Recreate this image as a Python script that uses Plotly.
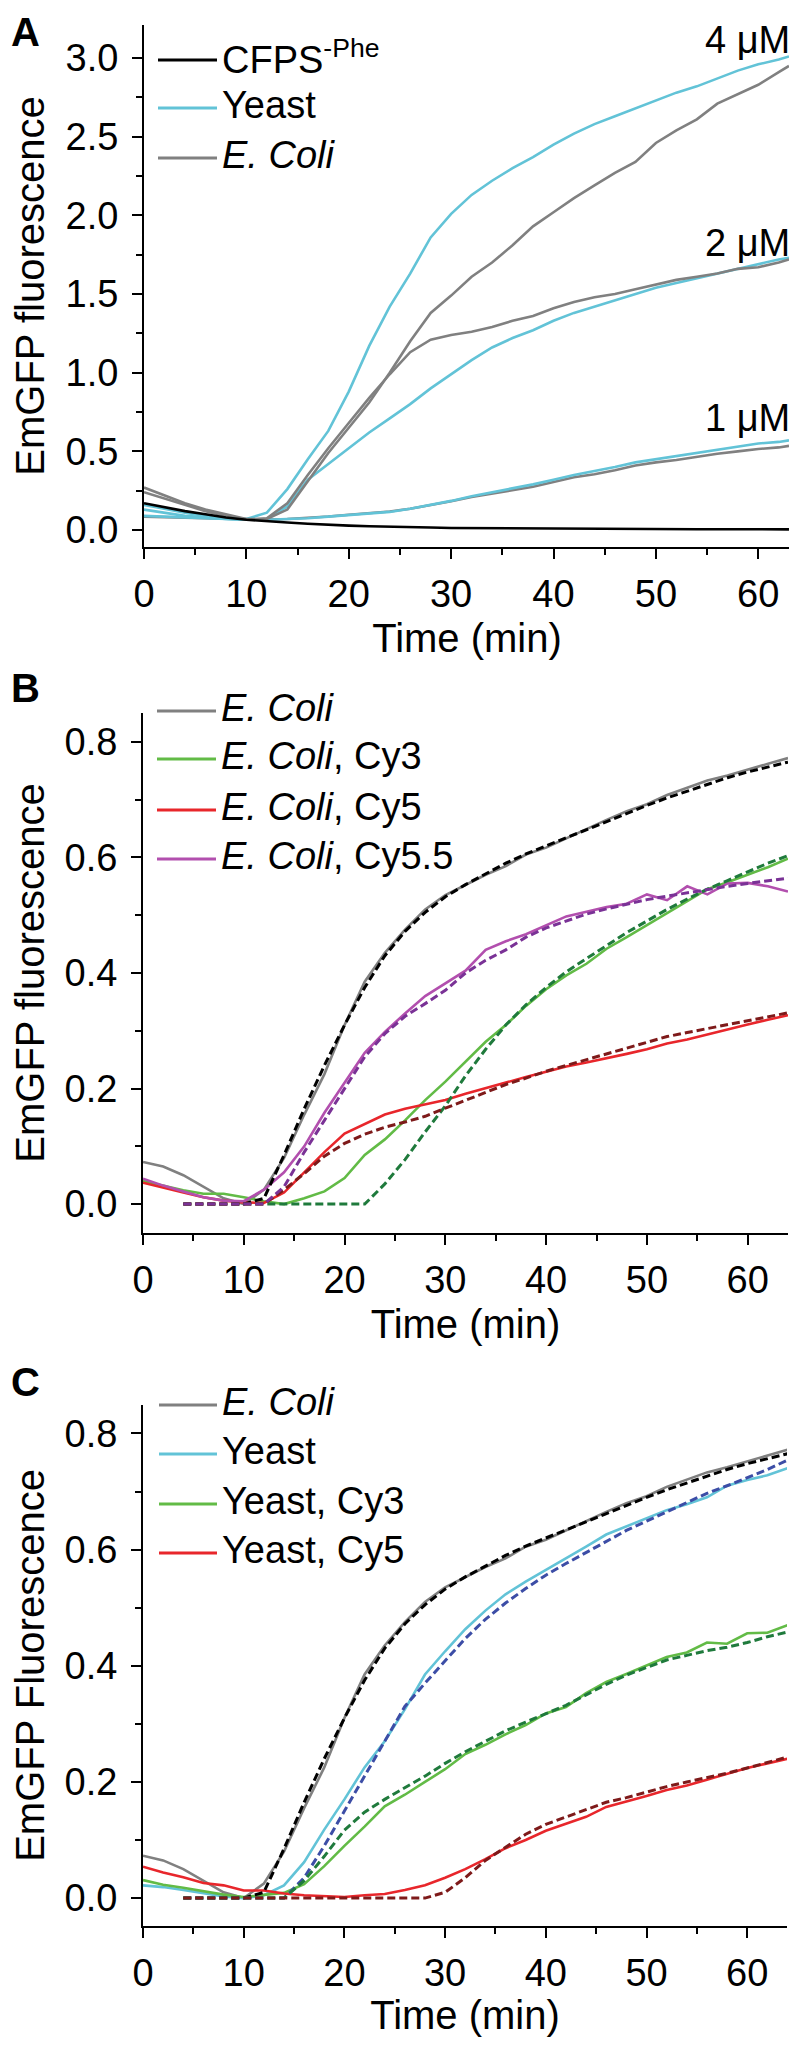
import plotly.graph_objects as go

# page body has an 8px margin: figure is placed at (8, 8) inside the 797x2045 window
OFF = 8
W, H = 797, 2045
FW, FH = W - OFF, H - 2 * OFF
FONT = "Arial, 'Liberation Sans', sans-serif"

# ---------------- Panel A data ----------------
t_A = [0, 2, 4, 6, 8, 10, 12, 14, 16, 18, 20, 22, 24, 26, 28, 30, 32, 34, 36, 38,
       40, 42, 44, 46, 48, 50, 52, 54, 56, 58, 60, 62, 63]
cfps_phe = [0.17, 0.145, 0.12, 0.10, 0.08, 0.065, 0.055, 0.048, 0.04, 0.033, 0.028, 0.024,
            0.02, 0.018, 0.016, 0.013, 0.012, 0.011, 0.010, 0.009, 0.008, 0.008, 0.007,
            0.006, 0.006, 0.005, 0.006, 0.005, 0.005, 0.004, 0.004, 0.004, 0.004]
yeast_4uM = [0.16, 0.135, 0.11, 0.09, 0.075, 0.07, 0.11, 0.26, 0.45, 0.63, 0.88, 1.17, 1.42,
             1.63, 1.86, 2.01, 2.13, 2.22, 2.30, 2.37, 2.45, 2.52, 2.58, 2.63, 2.68, 2.73,
             2.78, 2.82, 2.87, 2.92, 2.96, 2.99, 3.01]
ecoli_4uM = [0.27, 0.22, 0.17, 0.13, 0.10, 0.07, 0.07, 0.13, 0.31, 0.49, 0.65, 0.81, 1.0,
             1.2, 1.38, 1.49, 1.61, 1.70, 1.81, 1.93, 2.02, 2.11, 2.19, 2.27, 2.34, 2.46,
             2.54, 2.61, 2.71, 2.77, 2.83, 2.91, 2.95]
yeast_2uM = [0.13, 0.11, 0.09, 0.08, 0.07, 0.065, 0.07, 0.15, 0.32, 0.42, 0.52, 0.62, 0.71,
             0.80, 0.90, 0.99, 1.08, 1.16, 1.22, 1.27, 1.33, 1.38, 1.42, 1.46, 1.50, 1.54,
             1.57, 1.60, 1.63, 1.66, 1.69, 1.72, 1.73]
ecoli_2uM = [0.24, 0.20, 0.16, 0.12, 0.09, 0.065, 0.075, 0.17, 0.35, 0.52, 0.68, 0.84, 0.99,
             1.13, 1.21, 1.24, 1.26, 1.29, 1.33, 1.36, 1.41, 1.45, 1.48, 1.50, 1.53, 1.56,
             1.59, 1.61, 1.63, 1.66, 1.67, 1.70, 1.72]
yeast_1uM = [0.09, 0.085, 0.08, 0.075, 0.07, 0.065, 0.065, 0.07, 0.075, 0.085, 0.095, 0.105,
             0.115, 0.135, 0.16, 0.185, 0.215, 0.24, 0.265, 0.29, 0.32, 0.35, 0.375, 0.40,
             0.43, 0.45, 0.47, 0.49, 0.51, 0.53, 0.55, 0.56, 0.57]
ecoli_1uM = [0.085, 0.082, 0.078, 0.074, 0.07, 0.066, 0.066, 0.07, 0.076, 0.086, 0.097, 0.107,
             0.118, 0.135, 0.158, 0.183, 0.21, 0.232, 0.255, 0.275, 0.305, 0.335, 0.355,
             0.38, 0.41, 0.43, 0.445, 0.465, 0.485, 0.50, 0.515, 0.525, 0.535]
conc_labels = ["4 \u03bcM", "2 \u03bcM", "1 \u03bcM"]

# ---------------- Panels B & C data ----------------
t_BC = [0, 2, 4, 6, 8, 10, 12, 14, 16, 18, 20, 22, 24, 26, 28, 30, 32, 34, 36, 38, 40,
        42, 44, 46, 48, 50, 52, 54, 56, 58, 60, 62, 64]
t_fit = [4, 6, 8, 10, 12, 14, 16, 18, 20, 22, 24, 26, 28, 30, 32, 34, 36, 38, 40, 42, 44,
         46, 48, 50, 52, 54, 56, 58, 60, 62, 64]

ecoli = [0.073, 0.065, 0.05, 0.03, 0.01, 0.0, 0.025, 0.08, 0.155, 0.225, 0.31, 0.385, 0.435,
         0.475, 0.51, 0.535, 0.553, 0.570, 0.585, 0.605, 0.617, 0.633, 0.65, 0.665, 0.68,
         0.692, 0.708, 0.72, 0.733, 0.742, 0.752, 0.762, 0.772]
ecoli_fit = [0, 0, 0, 0, 0.01, 0.085, 0.165, 0.24, 0.31, 0.375, 0.43, 0.472, 0.505, 0.532,
             0.553, 0.572, 0.59, 0.606, 0.62, 0.635, 0.649, 0.663, 0.677, 0.69, 0.703, 0.715,
             0.727, 0.738, 0.748, 0.757, 0.765]

ecoli_cy3 = [0.04, 0.032, 0.024, 0.018, 0.018, 0.012, 0.005, 0.0, 0.01, 0.022, 0.045, 0.085,
             0.112, 0.145, 0.18, 0.212, 0.247, 0.281, 0.31, 0.343, 0.372, 0.396, 0.416, 0.442,
             0.462, 0.483, 0.503, 0.525, 0.545, 0.557, 0.57, 0.583, 0.598]
ecoli_cy3_fit = [0, 0, 0, 0, 0, 0, 0, 0, 0, 0, 0.035, 0.077, 0.125, 0.17, 0.222, 0.268, 0.31,
                 0.345, 0.375, 0.402, 0.425, 0.448, 0.47, 0.49, 0.51, 0.528, 0.545, 0.56,
                 0.575, 0.59, 0.603]
ecoli_cy5 = [0.037, 0.028, 0.02, 0.012, 0.006, 0.003, 0.002, 0.02, 0.055, 0.09, 0.122, 0.139,
             0.155, 0.165, 0.172, 0.18, 0.191, 0.201, 0.211, 0.22, 0.229, 0.238, 0.245,
             0.252, 0.26, 0.268, 0.278, 0.285, 0.294, 0.302, 0.311, 0.319, 0.327]
ecoli_cy5_fit = [0, 0, 0, 0, 0, 0.025, 0.053, 0.083, 0.105, 0.121, 0.133, 0.142, 0.152, 0.166,
                 0.18, 0.194, 0.207, 0.218, 0.23, 0.24, 0.25, 0.261, 0.27, 0.281, 0.29,
                 0.297, 0.304, 0.311, 0.318, 0.325, 0.331]
ecoli_cy55 = [0.044, 0.032, 0.022, 0.012, 0.006, 0.005, 0.025, 0.055, 0.1, 0.158, 0.21, 0.262,
              0.298, 0.33, 0.36, 0.382, 0.404, 0.44, 0.455, 0.467, 0.482, 0.498, 0.506,
              0.514, 0.52, 0.536, 0.526, 0.55, 0.536, 0.555, 0.556, 0.55, 0.541]
ecoli_cy55_fit = [0, 0, 0, 0, 0, 0.03, 0.09, 0.145, 0.2, 0.255, 0.295, 0.325, 0.347, 0.37,
                  0.4, 0.422, 0.44, 0.462, 0.478, 0.49, 0.502, 0.511, 0.519, 0.527, 0.533,
                  0.539, 0.545, 0.55, 0.555, 0.56, 0.564]

yeast = [0.022, 0.019, 0.014, 0.008, 0.003, 0.0, 0.005, 0.022, 0.062, 0.118, 0.17, 0.225,
         0.27, 0.325, 0.385, 0.425, 0.463, 0.495, 0.523, 0.545, 0.565, 0.584, 0.605, 0.626,
         0.64, 0.653, 0.668, 0.678, 0.69, 0.71, 0.72, 0.728, 0.74]
yeast_fit = [0, 0, 0, 0, 0, 0, 0.035, 0.09, 0.15, 0.21, 0.27, 0.33, 0.37, 0.408, 0.447, 0.48,
             0.508, 0.533, 0.556, 0.576, 0.595, 0.614, 0.633, 0.649, 0.665, 0.682, 0.697,
             0.71, 0.724, 0.738, 0.754]
yeast_cy3 = [0.031, 0.023, 0.018, 0.012, 0.006, 0.002, 0.006, 0.009, 0.024, 0.055, 0.09, 0.123,
             0.158, 0.178, 0.2, 0.222, 0.248, 0.264, 0.282, 0.298, 0.318, 0.329, 0.353, 0.372,
             0.386, 0.4, 0.415, 0.423, 0.44, 0.438, 0.456, 0.457, 0.47]
yeast_cy3_fit = [0, 0, 0, 0, 0, 0, 0.03, 0.072, 0.117, 0.148, 0.17, 0.19, 0.21, 0.232, 0.252,
                 0.27, 0.288, 0.303, 0.318, 0.332, 0.35, 0.368, 0.384, 0.397, 0.41, 0.418,
                 0.426, 0.432, 0.44, 0.45, 0.458]
yeast_cy5 = [0.054, 0.044, 0.036, 0.026, 0.022, 0.013, 0.013, 0.008, 0.005, 0.003, 0.002,
             0.005, 0.007, 0.014, 0.022, 0.035, 0.05, 0.067, 0.086, 0.1, 0.116, 0.128, 0.14,
             0.157, 0.166, 0.176, 0.186, 0.194, 0.204, 0.214, 0.224, 0.232, 0.24]
yeast_cy5_fit = [0, 0, 0, 0, 0, 0, 0, 0, 0, 0, 0, 0, 0, 0.01, 0.035, 0.065, 0.088, 0.11,
                 0.127, 0.14, 0.153, 0.165, 0.173, 0.183, 0.192, 0.2, 0.207, 0.215, 0.224,
                 0.233, 0.243]

legend_A = ["CFPS<sup>-Phe</sup>", "Yeast", "<i>E. Coli</i>"]
legend_B = ["<i>E. Coli</i>", "<i>E. Coli</i>, Cy3", "<i>E. Coli</i>, Cy5", "<i>E. Coli</i>, Cy5.5"]
legend_C = ["<i>E. Coli</i>", "Yeast", "Yeast, Cy3", "Yeast, Cy5"]
panel_letters = ["A", "B", "C"]

# ---------------- styles ----------------
BLACK = "#000000"
CYAN = "#62C3D7"
GRAY = "#808080"
GREEN = "#62BB46"
RED = "#E8262B"
MAGENTA = "#B24FAE"
PURPLE_D = "#7A3296"
GREEN_D = "#1F7A3C"
RED_D = "#7E1A1A"
BLUE_D = "#3C4DA6"
LW = 2.6
DASH = "8px,4px"


def px(x):
    return (x - OFF) / FW


def py(y):
    return 1 - (y - OFF) / FH


fig = go.Figure()


def solid(x, y, color, ax):
    fig.add_trace(go.Scatter(x=x, y=y, mode="lines", line=dict(color=color, width=LW),
                             xaxis="x" + ax, yaxis="y" + ax, showlegend=False,
                             hoverinfo="skip"))


def dashed(x, y, color, ax):
    fig.add_trace(go.Scatter(x=x, y=y, mode="lines",
                             line=dict(color=color, width=3.0, dash=DASH),
                             xaxis="x" + ax, yaxis="y" + ax, showlegend=False,
                             hoverinfo="skip"))


# Panel A
solid(t_A, ecoli_1uM, GRAY, "")
solid(t_A, yeast_1uM, CYAN, "")
solid(t_A, yeast_2uM, CYAN, "")
solid(t_A, ecoli_2uM, GRAY, "")
solid(t_A, yeast_4uM, CYAN, "")
solid(t_A, ecoli_4uM, GRAY, "")
solid(t_A, cfps_phe, BLACK, "")

# Panel B
solid(t_BC, ecoli, GRAY, "2")
solid(t_BC, ecoli_cy3, GREEN, "2")
solid(t_BC, ecoli_cy5, RED, "2")
solid(t_BC, ecoli_cy55, MAGENTA, "2")
dashed(t_fit, ecoli_fit, BLACK, "2")
dashed(t_fit, ecoli_cy3_fit, GREEN_D, "2")
dashed(t_fit, ecoli_cy5_fit, RED_D, "2")
dashed(t_fit, ecoli_cy55_fit, PURPLE_D, "2")

# Panel C
solid(t_BC, ecoli, GRAY, "3")
solid(t_BC, yeast, CYAN, "3")
solid(t_BC, yeast_cy3, GREEN, "3")
solid(t_BC, yeast_cy5, RED, "3")
dashed(t_fit, ecoli_fit, BLACK, "3")
dashed(t_fit, yeast_fit, BLUE_D, "3")
dashed(t_fit, yeast_cy3_fit, GREEN_D, "3")
dashed(t_fit, yeast_cy5_fit, RED_D, "3")

TICKF = dict(family=FONT, size=38, color="black")
TITLEF = dict(family=FONT, size=40, color="black")


def xaxis(dom, rng, anchor):
    return dict(domain=[px(dom[0]), px(dom[1])], range=rng, anchor=anchor,
                showline=True, linecolor="black", linewidth=2, mirror=False,
                ticks="outside", ticklen=10, tickwidth=2, tickcolor="black",
                dtick=10, tick0=0, showgrid=False, zeroline=False,
                minor=dict(ticks="outside", ticklen=6, tickwidth=2, tickcolor="black",
                           dtick=5, tick0=0, showgrid=False),
                tickfont=TICKF, ticklabelstandoff=2, automargin=False,
                title=dict(text="Time (min)", font=TITLEF, standoff=10))


def yaxis(dom, rng, dt, title, anchor):
    return dict(domain=[py(dom[1]), py(dom[0])], range=rng, anchor=anchor,
                showline=True, linecolor="black", linewidth=2, mirror=False,
                ticks="outside", ticklen=10, tickwidth=2, tickcolor="black",
                dtick=dt, tick0=0, tickformat=".1f", showgrid=False, zeroline=False,
                minor=dict(ticks="outside", ticklen=6, tickwidth=2, tickcolor="black",
                           dtick=dt / 2, tick0=0, showgrid=False),
                tickfont=TICKF, ticklabelstandoff=6, automargin=False,
                title=dict(text=title, font=TITLEF, standoff=14))


fig.update_layout(
    width=FW, height=FH, margin=dict(l=0, r=0, t=0, b=0),
    paper_bgcolor="white", plot_bgcolor="white",
    font=dict(family=FONT, color="black"),
    xaxis=xaxis((144, 790), [0, 63.1], "y"),
    yaxis=yaxis((25, 547), [-0.108, 3.21], 0.5, "EmGFP fluorescence", "x"),
    xaxis2=xaxis((143, 788), [0, 64.0], "y2"),
    yaxis2=yaxis((713, 1233), [-0.05, 0.85], 0.2, "EmGFP fluorescence", "x2"),
    xaxis3=xaxis((143, 787), [0, 63.95], "y3"),
    yaxis3=yaxis((1405, 1926), [-0.048, 0.849], 0.2, "EmGFP Fluorescence", "x3"),
)

shapes = []
annotations = []
LEGF = dict(family=FONT, size=38, color="black")


def legend(items, colors, ys, x0, x1):
    for txt, c, y in zip(items, colors, ys):
        shapes.append(dict(type="line", xref="paper", yref="paper",
                           x0=px(x0), x1=px(x1), y0=py(y), y1=py(y),
                           line=dict(color=c, width=3)))
        annotations.append(dict(text=txt, xref="paper", yref="paper", x=px(x1 + 3),
                                y=py(y - 3), xanchor="left", yanchor="middle",
                                showarrow=False, font=LEGF))


legend(legend_A, [BLACK, CYAN, GRAY], [60, 108, 158], 158, 217)
legend(legend_B, [GRAY, GREEN, RED, MAGENTA], [711, 759, 810, 859], 157, 216)
legend(legend_C, [GRAY, CYAN, GREEN, RED], [1405, 1454, 1504, 1553], 159, 217)

for txt, y in zip(conc_labels, [40, 243, 418]):
    annotations.append(dict(text=txt, xref="paper", yref="paper", x=px(792), y=py(y),
                            xanchor="right", yanchor="middle", showarrow=False, font=LEGF))

for txt, y in zip(panel_letters, [8, 664, 1358]):
    annotations.append(dict(text="<b>" + txt + "</b>", xref="paper", yref="paper",
                            x=px(9), y=py(y), xanchor="left", yanchor="top",
                            showarrow=False, font=dict(family=FONT, size=40, color="black")))

fig.update_layout(shapes=shapes, annotations=annotations)
fig.write_html("out.html")
